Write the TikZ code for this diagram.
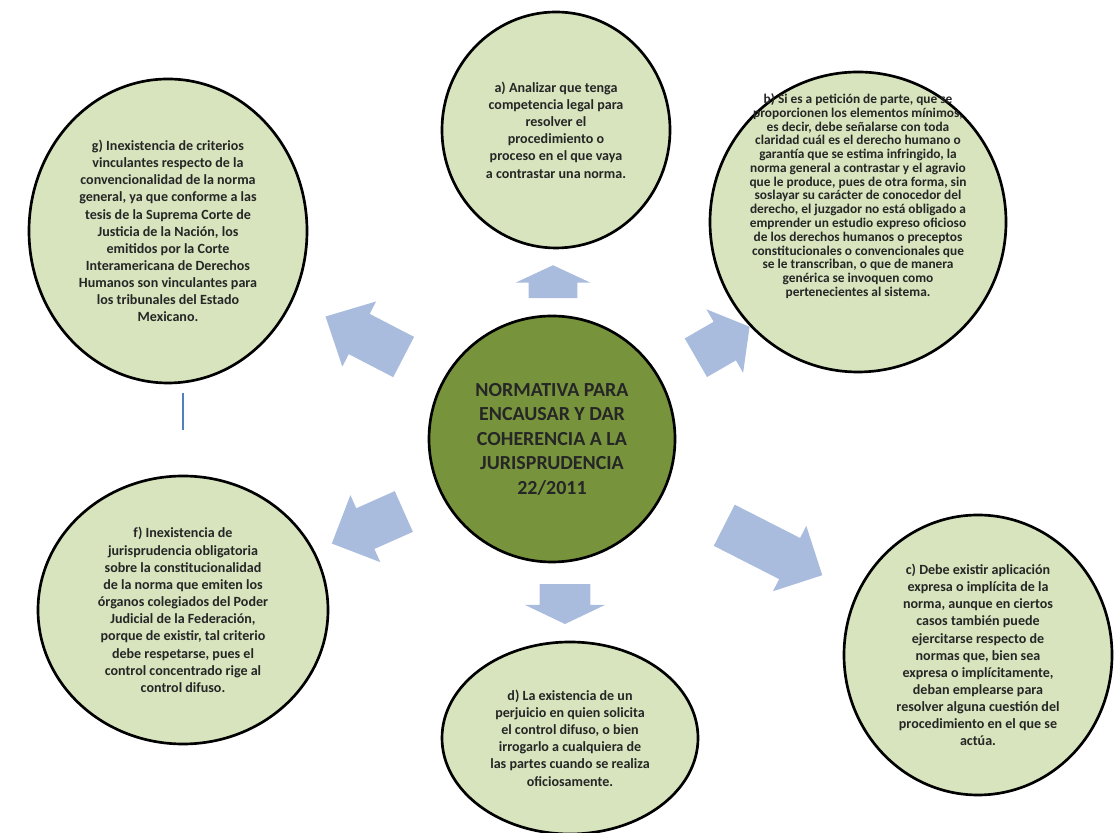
\documentclass[tikz,border=0pt]{standalone}
\usepackage{fontspec}
\setmainfont{Carlito}
\usetikzlibrary{shapes.geometric,shapes.arrows}
\definecolor{bubblegreen}{RGB}{215,228,189}
\definecolor{hubgreen}{RGB}{119,147,60}
\definecolor{arrowblue}{RGB}{169,188,222}
\definecolor{markblue}{RGB}{79,129,189}
\tikzstyle{bubble} = [ellipse, draw=black, line width=1.9pt, fill=bubblegreen, inner sep=0pt]
\tikzstyle{hub} = [circle, draw=black, line width=1.9pt, fill=hubgreen, inner sep=0pt, minimum size=6.15cm]
\tikzstyle{bubbletext} = [align=center, text=black!85, font=\bfseries\fontsize{10}{12.2}\selectfont]
\tikzstyle{smalltext} = [align=center, text=black!85, font=\bfseries\fontsize{9.5}{9.8}\selectfont]
\tikzstyle{hubtext} = [align=center, text=black!85, font=\bfseries\fontsize{14.2}{17.4}\selectfont]
\tikzstyle{blockarrow} = [single arrow, fill=arrowblue, inner xsep=0pt, inner ysep=0.55cm, single arrow head extend=0.36cm, single arrow tip angle=90]

\begin{document}
\begin{tikzpicture}
	\useasboundingbox (0, 0) rectangle (27.95, 20.825);
	% center
	\node (hub) at (13.8, 9.85) [hub, hubtext] {NORMATIVA PARA\\ENCAUSAR Y DAR\\COHERENCIA A LA\\JURISPRUDENCIA\\22/2011};
	% bubbles
	\node (a) at (13.9, 17.575) [bubble, minimum width=5.7cm, minimum height=5.9cm] {};
	\node (b) at (21.45, 15.275) [bubble, minimum width=7.4cm, minimum height=7.5cm] {};
	\node (c) at (24.45, 4.45) [bubble, minimum width=6.7cm, minimum height=7cm] {};
	\node (d) at (14.25, 2.375) [bubble, minimum width=6.4cm, minimum height=4.8cm] {};
	\node (f) at (4.575, 5.575) [bubble, minimum width=7.25cm, minimum height=6.7cm] {};
	\node (g) at (4.2, 15.05) [bubble, minimum width=6.95cm, minimum height=7.6cm] {};
	\node (atext) at (a) [bubbletext] {a) Analizar que tenga\\competencia legal para\\resolver el\\procedimiento o\\proceso en el que vaya\\a contrastar una norma.};
	\node (btext) at ([yshift=0.65cm]b.center) [smalltext] {b) Si es a petición de parte, que se\\proporcionen los elementos mínimos,\\es decir, debe señalarse con toda\\claridad cuál es el derecho humano o\\garantía que se estima infringido, la\\norma general a contrastar y el agravio\\que le produce, pues de otra forma, sin\\soslayar su carácter de conocedor del\\derecho, el juzgador no está obligado a\\emprender un estudio expreso oficioso\\de los derechos humanos o preceptos\\constitucionales o convencionales que\\se le transcriban, o que de manera\\genérica se invoquen como\\pertenecientes al sistema.};
	\node (ctext) at (c) [bubbletext] {c) Debe existir aplicación\\expresa o implícita de la\\norma, aunque en ciertos\\casos también puede\\ejercitarse respecto de\\normas que, bien sea\\expresa o implícitamente,\\deban emplearse para\\resolver alguna cuestión del\\procedimiento en el que se\\actúa.};
	\node (dtext) at (d) [bubbletext] {d) La existencia de un\\perjuicio en quien solicita\\el control difuso, o bien\\irrogarlo a cualquiera de\\las partes cuando se realiza\\oficiosamente.};
	\node (ftext) at (f) [bubbletext] {f) Inexistencia de\\jurisprudencia obligatoria\\sobre la constitucionalidad\\de la norma que emiten los\\órganos colegiados del Poder\\Judicial de la Federación,\\porque de existir, tal criterio\\debe respetarse, pues el\\control concentrado rige al\\control difuso.};
	\node (gtext) at (g) [bubbletext] {g) Inexistencia de criterios\\vinculantes respecto de la\\convencionalidad de la norma\\general, ya que conforme a las\\tesis de la Suprema Corte de\\Justicia de la Nación, los\\emitidos por la Corte\\Interamericana de Derechos\\Humanos son vinculantes para\\los tribunales del Estado\\Mexicano.};
	% arrows
	\node (toa) at (13.825, 13.64) [blockarrow, rotate=90, minimum height=0.825cm, inner ysep=0.6cm, single arrow head extend=0.325cm, single arrow tip angle=130] {};
	\node (tob) at (17.88, 12.16) [blockarrow, rotate=30, minimum height=1.55cm, single arrow tip angle=104] {};
	\node (toc) at (19.075, 7.2) [blockarrow, rotate=-27, minimum height=2.75cm, inner ysep=0.57cm, single arrow head extend=0.34cm] {};
	\node (tod) at (14.125, 5.875) [blockarrow, rotate=-90, minimum height=1cm, inner ysep=0.625cm, single arrow head extend=0.375cm, single arrow tip angle=129] {};
	\node (tof) at (9.45, 7.75) [blockarrow, rotate=204, minimum height=1.97cm] {};
	\node (tog) at (9.375, 12.27) [blockarrow, rotate=152.6, minimum height=2.2cm, inner ysep=0.56cm, single arrow head extend=0.35cm, single arrow tip angle=88] {};
	% stray mark under g
	\coordinate (marktop) at (4.575, 11);
	\coordinate (markbot) at (4.575, 10.075);
	\draw [markblue, line width=2pt] (marktop) -- (markbot);
\end{tikzpicture}
\end{document}
